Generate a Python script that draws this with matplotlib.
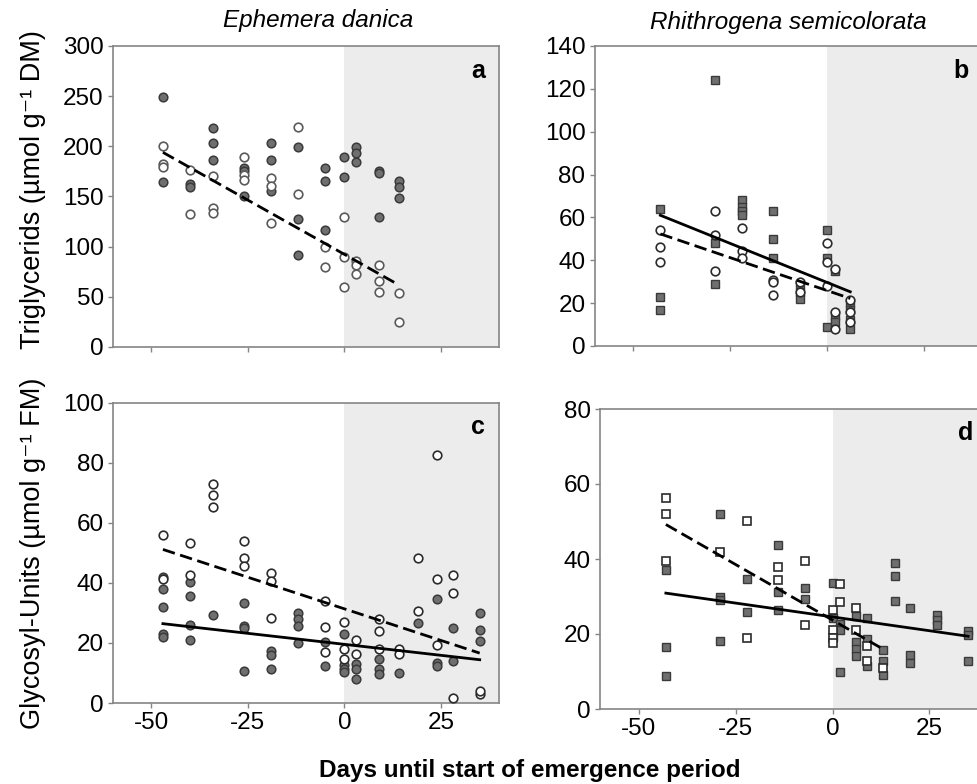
import numpy as np
import matplotlib
matplotlib.use("Agg")
import matplotlib.pyplot as plt

plt.rcParams['font.family'] = ['Liberation Sans', 'DejaVu Sans']
plt.rcParams['mathtext.default'] = 'regular'
plt.rcParams['axes.unicode_minus'] = False

# ---- panel a: Ephemera danica, triglycerids
a_fill_x = [-47, -47, -40, -40, -34, -34, -34, -26, -26, -26, -19, -19, -19, -12, -12, -12,
            -5, -5, -5, 0, 0, 3, 3, 3, 9, 9, 9, 14, 14, 14]
a_fill_y = [249, 164, 162, 159, 218, 203, 186, 178, 175, 150, 203, 186, 155, 199, 128, 92,
            178, 165, 117, 189, 169, 199, 193, 184, 175, 173, 130, 165, 159, 149]
a_open_x = [-47, -47, -47, -40, -40, -34, -34, -34, -26, -26, -26, -19, -19, -19, -12, -12,
            -5, -5, 0, 0, 0, 3, 3, 3, 9, 9, 9, 14, 14]
a_open_y = [200, 182, 179, 176, 133, 170, 139, 134, 189, 171, 166, 168, 160, 124, 219, 152,
            100, 80, 130, 90, 60, 86, 82, 73, 82, 66, 55, 54, 25]
a_dash_x = [-47, 14]
a_dash_y = [194, 62]

# ---- panel b: Rhithrogena semicolorata, triglycerids
b_sq_x = [-43, -43, -43, -29, -29, -29, -22, -22, -22, -22, -14, -14, -14, -7, -7, -7,
          0, 0, 0, 2, 2, 2, 6, 6, 6, 6]
b_sq_y = [64, 23, 17, 124, 48, 29, 68, 65, 63, 61, 63, 50, 41, 29, 25, 22,
          54, 41, 9, 35, 14, 11, 20, 17, 12, 8]
b_circ_x = [-43, -43, -43, -29, -29, -29, -22, -22, -22, -14, -14, -14, -7, -7,
            0, 0, 0, 2, 2, 2, 6, 6, 6]
b_circ_y = [54, 46, 39, 63, 52, 35, 55, 44.5, 41, 31, 30, 24, 30, 25,
            48, 39, 28, 36, 16, 8, 21.5, 16, 11]
b_solid_x = [-43, 6]
b_solid_y = [61, 25.3]
b_dash_x = [-43, 6]
b_dash_y = [52.3, 22.2]

# ---- panel c: Ephemera danica, glycosyl units
c_fill_x = [-47, -47, -47, -47, -47, -40, -40, -40, -40, -34, -26, -26, -26, -26, -19, -19, -19,
            -12, -12, -12, -12, -5, -5, 0, 0, 0, 0, 3, 3, 3, 9, 9, 9, 14, 19, 24, 24, 24,
            28, 28, 35, 35, 35]
c_fill_y = [42, 38.1, 32, 23.1, 22, 40.3, 35.5, 25.9, 21.1, 29.2, 33.3, 25.6, 24.8, 10.7, 17.3, 15.9, 11.4,
            30.1, 28.1, 25.6, 20, 20.3, 12.3, 23.1, 12.8, 11.4, 10.3, 12.9, 11.4, 8.1, 14.5, 11.4, 9.8,
            10, 26.6, 34.6, 13.3, 12.2, 25.1, 14, 30.1, 24.4, 20.6]
c_open_x = [-47, -47, -40, -40, -34, -34, -34, -26, -26, -26, -19, -19, -19, -5, -5, -5,
            0, 0, 0, 3, 3, 9, 9, 9, 14, 14, 19, 19, 24, 24, 24, 28, 28, 28, 35, 35]
c_open_y = [56, 41.4, 53.3, 42.5, 72.8, 69.1, 65.3, 53.9, 48.4, 45.6, 43.4, 40.5, 28.4, 34, 25.3, 16.9,
            26.8, 18, 14.8, 20.9, 16.4, 27.8, 23.9, 18, 18, 16.2, 48.2, 30.6, 82.5, 41.2, 19.4,
            42.7, 36.6, 1.8, 3.1, 4]
c_dash_x = [-47, 35]
c_dash_y = [51.1, 16.6]
c_solid_x = [-47, 35]
c_solid_y = [26.4, 14.4]

# ---- panel d: Rhithrogena semicolorata, glycosyl units
d_fill_x = [-43, -43, -43, -29, -29, -29, -29, -22, -22, -14, -14, -14, -7, -7, 0, 0, 0,
            2, 2, 2, 6, 6, 6, 6, 9, 9, 9, 13, 13, 13, 16, 16, 16, 20, 20, 20, 27, 27, 27, 35, 35, 35]
d_fill_y = [37, 16.5, 8.9, 52, 29.9, 29, 18.2, 34.7, 25.9, 43.8, 31.2, 26.5, 32.4, 29.3, 33.6, 24.3, 19.2,
            22.7, 21.1, 10, 24.9, 17.8, 16, 14.2, 24.4, 18.7, 11.4, 15.8, 12.7, 9.1, 38.9, 35.4, 28.7,
            26.9, 14.5, 12.3, 25.1, 23.8, 22.3, 20.7, 19.8, 12.7]
d_open_x = [-43, -43, -43, -29, -22, -22, -14, -14, -7, -7, 0, 0, 0, 0, 2, 2, 6, 6, 9, 9, 13]
d_open_y = [56.3, 52.1, 39.4, 42, 50.1, 19, 37.9, 34.5, 39.5, 22.3, 26.3, 21.1, 18.9, 17.6,
            33.4, 28.5, 26.9, 21, 16.7, 12.9, 10.9]
d_dash_x = [-43, 13]
d_dash_y = [49.2, 16]
d_solid_x = [-43, 35]
d_solid_y = [30.9, 19.4]

species = ['Ephemera danica', 'Rhithrogena semicolorata']
ylabels = ['Triglycerids (µmol g⁻¹ DM)', 'Glycosyl-Units (µmol g⁻¹ FM)']
xlabel = 'Days until start of emergence period'

W, H = 977, 784
fig = plt.figure(figsize=(W / 100, H / 100), dpi=100)

def px_axes(left, top, right, bottom):
    return fig.add_axes([left / W, 1 - bottom / H, (right - left) / W, (bottom - top) / H])

axA = px_axes(112.7, 46, 499, 347)
axB = px_axes(594.5, 46, 982, 346)
axC = px_axes(112.7, 402.5, 499, 703)
axD = px_axes(600, 409, 987.5, 709)

fillc = '#6f6f6f'
fille = '#3a3a3a'
opene = '#2b2b2b'
spinec = '#858585'

def style(ax, ymax, ystep, letter, showx):
    ax.set_xlim(-60, 40)
    ax.set_ylim(0, ymax)
    ax.axvspan(0, 40, color='#ececec', zorder=0, lw=0)
    ax.set_xticks([-50, -25, 0, 25])
    ax.set_yticks(np.arange(0, ymax + 1, ystep))
    for s in ax.spines.values():
        s.set_color(spinec)
        s.set_linewidth(1.2)
    ax.tick_params(direction='out', length=3.5, width=1, color=spinec,
                   labelsize=17.5, pad=3, top=False, right=False)
    if not showx:
        ax.set_xticklabels([])
    # panel letter, top right inside the box
    ax.annotate(letter, xy=(1, 1), xycoords='axes fraction',
                xytext=(-10, -9), textcoords='offset points',
                ha='right', va='top', fontsize=18, fontweight='bold')

def circles(ax, x, y, filled, edge=opene):
    if filled:
        ax.plot(x, y, 'o', ms=6.2, mfc=fillc, mec=fille, mew=1.1, ls='none', zorder=3)
    else:
        ax.plot(x, y, 'o', ms=6.2, mfc='white', mec=edge, mew=1.2, ls='none', zorder=4)

def squares(ax, x, y, filled):
    if filled:
        ax.plot(x, y, 's', ms=5.6, mfc=fillc, mec=fille, mew=1.0, ls='none', zorder=3)
    else:
        ax.plot(x, y, 's', ms=5.6, mfc='white', mec=opene, mew=1.2, ls='none', zorder=4)

def dashed(ax, x, y):
    ax.plot(x, y, color='black', lw=2.0, dashes=(4.5, 2), zorder=5)

def solid(ax, x, y):
    ax.plot(x, y, color='black', lw=2.0, zorder=5)

style(axA, 300, 50, 'a', False)
circles(axA, a_fill_x, a_fill_y, True)
circles(axA, a_open_x, a_open_y, False, edge='#5a5a5a')
dashed(axA, a_dash_x, a_dash_y)

style(axB, 140, 20, 'b', False)
squares(axB, b_sq_x, b_sq_y, True)
circles(axB, b_circ_x, b_circ_y, False)
solid(axB, b_solid_x, b_solid_y)
dashed(axB, b_dash_x, b_dash_y)

style(axC, 100, 20, 'c', True)
circles(axC, c_fill_x, c_fill_y, True)
circles(axC, c_open_x, c_open_y, False)
dashed(axC, c_dash_x, c_dash_y)
solid(axC, c_solid_x, c_solid_y)

style(axD, 80, 20, 'd', True)
squares(axD, d_fill_x, d_fill_y, True)
squares(axD, d_open_x, d_open_y, False)
dashed(axD, d_dash_x, d_dash_y)
solid(axD, d_solid_x, d_solid_y)

fig.text(318 / W, 1 - 21 / H, species[0], ha='center', va='center', fontsize=17.5, style='italic')
fig.text(788 / W, 1 - 22 / H, species[1], ha='center', va='center', fontsize=17.5, style='italic')
fig.text(33 / W, 1 - 190 / H, ylabels[0], ha='center', va='center', rotation=90, fontsize=19.5)
fig.text(33 / W, 1 - 553 / H, ylabels[1], ha='center', va='center', rotation=90, fontsize=19.5)
fig.text(530 / W, 1 - 770 / H, xlabel, ha='center', va='center', fontsize=17.5, fontweight='bold')

fig.savefig('out.png', dpi=100)
